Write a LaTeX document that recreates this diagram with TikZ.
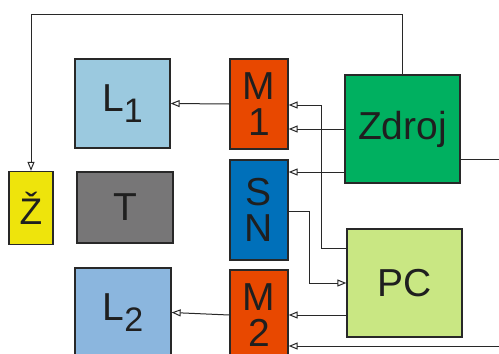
\documentclass[tikz,border=0pt]{standalone}
\usepackage{fontspec}
\setmainfont{Liberation Sans}
\usetikzlibrary{arrows.meta}

\definecolor{lightblueL}{RGB}{155,201,223}
\definecolor{blueL}{RGB}{139,182,222}
\definecolor{motororange}{RGB}{232,72,0}
\definecolor{snblue}{RGB}{0,112,186}
\definecolor{zdrojgreen}{RGB}{0,176,96}
\definecolor{pcgreen}{RGB}{201,231,131}
\definecolor{tgray}{RGB}{119,118,119}
\definecolor{zyellow}{RGB}{238,228,12}
\definecolor{linegray}{RGB}{40,40,40}

\tikzset{
  block/.style={draw=linegray,line width=1.3pt,inner sep=0pt,align=center,
    font=\fontsize{39}{36}\selectfont,text=black!88},
  wire/.style={draw=linegray,line width=1pt},
  tip/.style={wire,-{Triangle[open,length=9pt,width=7pt]}}
}

\begin{document}
\begin{tikzpicture}[x=1pt,y=-1pt]
  \clip (0,0) rectangle (499,354);

  % blocks
  \node[block,fill=lightblueL,minimum width=95pt,minimum height=89pt] (L1) at (122.5,103.5)
    {L\raisebox{-0.28em}{\fontsize{34}{34}\selectfont 1}};
  \node[block,fill=motororange,minimum width=58pt,minimum height=90pt] (M1) at (259,104) {M\\1};
  \node[block,fill=zyellow,minimum width=44pt,minimum height=73pt,
    font=\fontsize{37}{37}\selectfont] (Zz) at (31,208) {Ž};
  \node[block,fill=tgray,minimum width=96pt,minimum height=71pt] (T) at (125,207.5) {T};
  \node[block,fill=snblue,minimum width=58pt,minimum height=100pt] (SN) at (259,210) {S\\N};
  \node[block,fill=blueL,minimum width=96pt,minimum height=89pt] (L2) at (123,312.5)
    {L\raisebox{-0.28em}{\fontsize{34}{34}\selectfont 2}};
  \node[block,fill=motororange,minimum width=58pt,minimum height=90pt] (M2) at (259,315) {M\\2};
  \node[block,fill=zdrojgreen,minimum width=115pt,minimum height=108pt] (Zdroj) at (402.5,129) {Zdroj};
  \node[block,fill=pcgreen,minimum width=115pt,minimum height=108pt] (PC) at (404.5,283) {PC};

  \coordinate (top) at (0,14);
  \coordinate (outR) at (499,159);
  \coordinate (inR) at (499,346);

  % connections
  \draw[tip] (Zdroj.north) -- (Zdroj.north |- top) -| (Zz.north);
  \draw[tip] (M1.west) -- (L1.east);
  \draw[tip] (M2.west) -- (L2.east);
  \draw[tip] (Zdroj.west) -- (Zdroj.west -| M1.east);
  \draw[tip] (Zdroj.west |- 0,172) -- (SN.east |- 0,172);
  \draw[tip] (PC.west |- 0,248) -- (321,248) -- (321,105) -- (M1.east |- 0,105);
  \draw[tip] (SN.east |- 0,211) -- (309,211) -- (309,283) -- (PC.west);
  \draw[tip] (PC.west |- M2.east) -- (M2.east);
  \draw[wire] (Zdroj.east |- outR) -- (outR);
  \draw[tip] (inR) -- (M2.east |- inR);
\end{tikzpicture}
\end{document}
